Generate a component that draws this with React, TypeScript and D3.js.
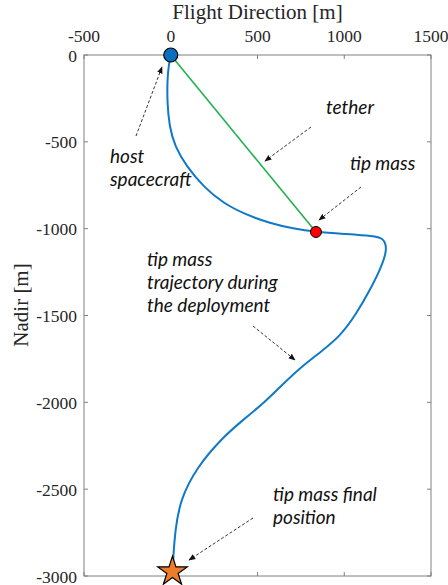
import * as d3 from 'd3';

const WIDTH = 448;
const HEIGHT = 585;

// plot box in pixels (axis equal, same as the matlab figure)
const BOX = { left: 84, right: 431, top: 55, bottom: 576 };

const xTicks = [-500, 0, 500, 1000, 1500];
const yTicks = [0, -500, -1000, -1500, -2000, -2500, -3000];

// tip mass trajectory [flight direction m, nadir m]
const trajX = [0, -12, -20, -20, -8, 24, 92, 188, 303, 437, 572, 705, 837, 1014, 1167, 1225, 1241, 1241, 1206, 1148, 1072, 975, 860, 745, 641, 543, 416, 301, 151, 53, 24, 15, 11, 11];
const trajY = [0, -60, -144, -278, -412, -528, -643, -758, -854, -921, -969, -1000, -1019, -1031, -1042, -1055, -1094, -1142, -1238, -1353, -1487, -1622, -1713, -1802, -1900, -1998, -2102, -2200, -2372, -2562, -2752, -2888, -2960, -2962];

const host = { x: 0, y: 0 };
const tipMass = { x: 837, y: -1019 };
const finalPos = { x: 10, y: -2975 };

// annotations: text lines, text anchor, arrow from -> to (pixels)
const notes = [
  { lines: ['tether'], x: 326, y: 114, from: [311, 127], to: [265, 161] },
  { lines: ['tip mass'], x: 350, y: 170, from: [361, 187], to: [319, 220] },
  { lines: ['host', 'spacecraft'], x: 110, y: 163, from: [136, 136], to: [162, 67] },
  { lines: ['tip mass', 'trajectory during', 'the deployment'], x: 147, y: 266, from: [253, 326], to: [295, 360] },
  { lines: ['tip mass final', 'position'], x: 273, y: 501, from: [253, 518], to: [189, 560] },
];

export default function App() {
  const xScale = d3.scaleLinear().domain([-500, 1500]).range([BOX.left, BOX.right]);
  const yScale = d3.scaleLinear().domain([0, -3000]).range([BOX.top, BOX.bottom]);

  // start point repeated so the basis spline begins exactly at the host
  const pts: [number, number][] = [[trajX[0], trajY[0]], ...trajX.map((x, i) => [x, trajY[i]] as [number, number])];
  const line = d3
    .line<[number, number]>()
    .x(d => xScale(d[0]))
    .y(d => yScale(d[1]))
    .curve(d3.curveBasis);

  const star = d3.symbol().type(d3.symbolStar).size(270)();

  const axisColor = '#808080';
  const tickLen = 4;

  return (
    <svg width={WIDTH} height={HEIGHT} style={{ position: 'absolute', left: 0, top: 0, background: '#fff' }}>
      <defs>
        <marker id="arrow" viewBox="0 0 10 10" refX="9" refY="5" markerWidth="7" markerHeight="7" orient="auto">
          <path d="M0,1 L10,5 L0,9 z" fill="#111" />
        </marker>
      </defs>

      {/* axes box */}
      <rect
        x={BOX.left}
        y={BOX.top}
        width={BOX.right - BOX.left}
        height={BOX.bottom - BOX.top}
        fill="none"
        stroke={axisColor}
        strokeWidth={1}
      />
      {xTicks.map(t => (
        <g key={'x' + t}>
          <line x1={xScale(t)} x2={xScale(t)} y1={BOX.top} y2={BOX.top + tickLen} stroke={axisColor} />
          <line x1={xScale(t)} x2={xScale(t)} y1={BOX.bottom} y2={BOX.bottom - tickLen} stroke={axisColor} />
          <text
            x={xScale(t)}
            y={42}
            textAnchor="middle"
            fontFamily="Liberation Serif"
            fontSize={17.5}
            fill="#262626"
          >
            {t}
          </text>
        </g>
      ))}
      {yTicks.map(t => (
        <g key={'y' + t}>
          <line x1={BOX.left} x2={BOX.left + tickLen} y1={yScale(t)} y2={yScale(t)} stroke={axisColor} />
          <line x1={BOX.right} x2={BOX.right - tickLen} y1={yScale(t)} y2={yScale(t)} stroke={axisColor} />
          <text
            x={77}
            y={yScale(t) + 6.5}
            textAnchor="end"
            fontFamily="Liberation Serif"
            fontSize={17.5}
            fill="#262626"
          >
            {t}
          </text>
        </g>
      ))}
      <text
        x={(BOX.left + BOX.right) / 2}
        y={19}
        textAnchor="middle"
        fontFamily="Liberation Serif"
        fontSize={21}
        fill="#262626"
      >
        Flight Direction [m]
      </text>
      <text
        transform={`translate(28,305) rotate(-90)`}
        textAnchor="middle"
        fontFamily="Liberation Serif"
        fontSize={21}
        fill="#262626"
      >
        Nadir [m]
      </text>

      {/* tether */}
      <line
        x1={xScale(host.x)}
        y1={yScale(host.y)}
        x2={xScale(tipMass.x)}
        y2={yScale(tipMass.y)}
        stroke="#22b14c"
        strokeWidth={1.6}
      />
      {/* trajectory */}
      <path d={line(pts) ?? ''} fill="none" stroke="#0f78c8" strokeWidth={2} />

      {/* markers */}
      <circle cx={xScale(host.x)} cy={yScale(host.y)} r={7} fill="#0a6fc2" stroke="#000" strokeWidth={1.2} />
      <circle cx={xScale(tipMass.x)} cy={yScale(tipMass.y)} r={5.5} fill="#ff0000" stroke="#000" strokeWidth={1} />
      <path
        d={star ?? ''}
        transform={`translate(${xScale(finalPos.x)},${yScale(finalPos.y)})`}
        fill="#ee7d2a"
        stroke="#000"
        strokeWidth={1.2}
      />

      {/* annotations */}
      {notes.map((n, i) => (
        <g key={i}>
          <line
            x1={n.from[0]}
            y1={n.from[1]}
            x2={n.to[0]}
            y2={n.to[1]}
            stroke="#333"
            strokeWidth={1}
            strokeDasharray="3,2"
            markerEnd="url(#arrow)"
          />
          {n.lines.map((l, j) => (
            <text
              key={j}
              x={n.x}
              y={n.y + j * 23}
              fontFamily="Lato"
              fontStyle="italic"
              fontSize={19}
              fill="#111"
            >
              {l}
            </text>
          ))}
        </g>
      ))}
    </svg>
  );
}
